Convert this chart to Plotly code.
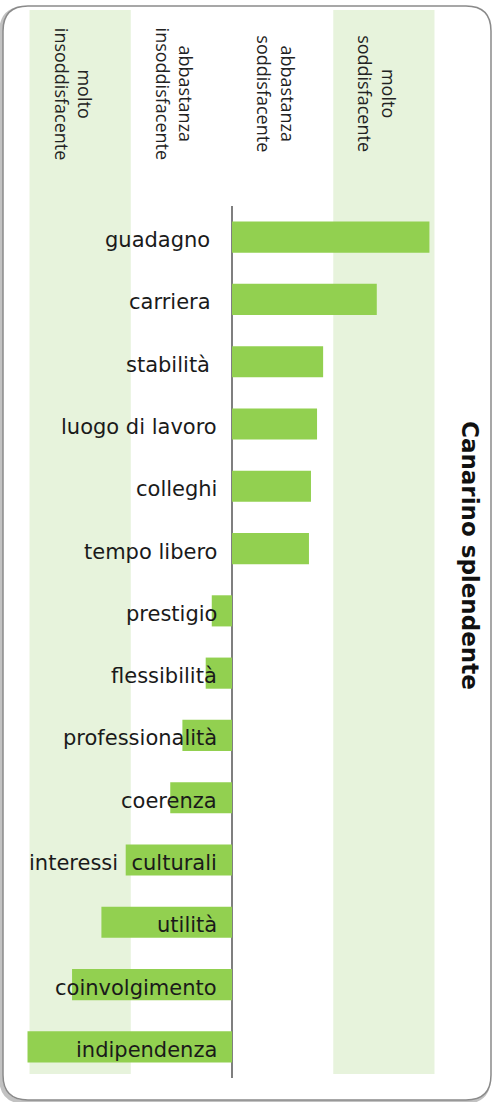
import plotly.graph_objects as go

# Job aspects and their satisfaction score (-2 = molto insoddisfacente ... +2 = molto soddisfacente)
aspects = [
    "guadagno\u00a0", "carriera\u00a0", "stabilità\u00a0", "luogo di lavoro", "colleghi",
    "tempo libero", "prestigio", "flessibilità", "professionalità", "coerenza",
    "interessi  culturali", "utilità", "coinvolgimento", "indipendenza",
]
scores = [1.95, 1.43, 0.90, 0.84, 0.78, 0.76, -0.20, -0.26, -0.49, -0.61,
          -1.05, -1.29, -1.58, -2.02]

# Satisfaction scale columns (centre of each unit band) and their headers
scale_centres = [-1.5, -0.5, 0.5, 1.5]
scale_headers = ["molto<br>insoddisfacente", "abbastanza<br>insoddisfacente",
                 "abbastanza<br>soddisfacente", "molto<br>soddisfacente"]
shaded_bands = [(-2, -1), (1, 2)]

title_text = "Canarino splendente"

FIG_W, FIG_H = 498, 1102
M_L, M_R, M_T, M_B = 27, 63, 206, 24
X_RANGE = [-2.025, 2.005]
PLOT_W = FIG_W - M_L - M_R
PLOT_H = FIG_H - M_T - M_B
BAR_GREEN = "#92D050"
BAND_GREEN = "#E7F3DC"


def px_to_paper_x(p):
    return (p - M_L) / PLOT_W


def px_to_paper_y(p):
    return (FIG_H - M_B - p) / PLOT_H


def val_to_paper_x(v):
    return (v - X_RANGE[0]) / (X_RANGE[1] - X_RANGE[0])


def rounded_rect(x0, y0, x1, y1, r):
    # pixel corners -> SVG path in paper coordinates
    P = lambda x, y: f"{px_to_paper_x(x):.5f},{px_to_paper_y(y):.5f}"
    return (f"M {P(x0 + r, y0)} L {P(x1 - r, y0)} Q {P(x1, y0)} {P(x1, y0 + r)} "
            f"L {P(x1, y1 - r)} Q {P(x1, y1)} {P(x1 - r, y1)} "
            f"L {P(x0 + r, y1)} Q {P(x0, y1)} {P(x0, y1 - r)} "
            f"L {P(x0, y0 + r)} Q {P(x0, y0)} {P(x0 + r, y0)} Z")


fig = go.Figure()
fig.add_trace(go.Bar(
    x=scores, y=aspects, orientation="h",
    marker=dict(color=BAR_GREEN, line=dict(width=0)),
    hoverinfo="skip", showlegend=False,
))

shapes = []
# card shadow and card
shapes.append(dict(type="path", xref="paper", yref="paper", layer="below",
                   path=rounded_rect(1, 8, 489, 1102, 25),
                   line=dict(color="rgba(120,120,120,0.45)", width=4),
                   fillcolor="rgba(0,0,0,0)"))
shapes.append(dict(type="path", xref="paper", yref="paper", layer="below",
                   path=rounded_rect(3, 6, 491, 1100, 25),
                   line=dict(color="#8a8a8a", width=1.5),
                   fillcolor="white"))
# shaded "molto" columns
for a, b in shaded_bands:
    shapes.append(dict(type="rect", xref="paper", yref="paper", layer="below",
                       x0=val_to_paper_x(a), x1=val_to_paper_x(b),
                       y0=px_to_paper_y(1074), y1=px_to_paper_y(10),
                       fillcolor=BAND_GREEN, line=dict(width=0)))

annotations = []
for c, h in zip(scale_centres, scale_headers):
    annotations.append(dict(
        x=c, xref="x", xshift=-6, y=px_to_paper_y(94), yref="paper",
        text=h, textangle=90, showarrow=False, align="center",
        xanchor="center", yanchor="middle",
        font=dict(family="Open Sans", size=18, color="#222222"),
    ))

for a, s in zip(aspects, scores):
    annotations.append(dict(
        x=0, xref="x", y=a, yref="y", text=a, showarrow=False,
        xanchor="right", yanchor="middle", xshift=-13, yshift=-3,
        font=dict(family="DejaVu Sans", size=21, color="#1a1a1a"),
    ))

annotations.append(dict(
    x=px_to_paper_x(470), xref="paper", y=px_to_paper_y(556), yref="paper",
    text=f"<b>{title_text}</b>", textangle=90, showarrow=False,
    xanchor="center", yanchor="middle",
    font=dict(family="DejaVu Sans", size=23, color="#111111"),
))

fig.update_layout(
    width=FIG_W, height=FIG_H,
    margin=dict(l=M_L, r=M_R, t=M_T, b=M_B, pad=0),
    paper_bgcolor="white", plot_bgcolor="rgba(0,0,0,0)",
    bargap=0.5, shapes=shapes, annotations=annotations,
    xaxis=dict(range=X_RANGE, showticklabels=False, showgrid=False, ticks="",
               zeroline=True, zerolinecolor="#7f7f7f", zerolinewidth=1.5,
               showline=False, fixedrange=True),
    yaxis=dict(categoryorder="array", categoryarray=aspects, autorange="reversed",
               showticklabels=False, showgrid=False, zeroline=False, ticks="",
               showline=False, fixedrange=True),
)

fig.write_html("out.html", config={"displayModeBar": False})
